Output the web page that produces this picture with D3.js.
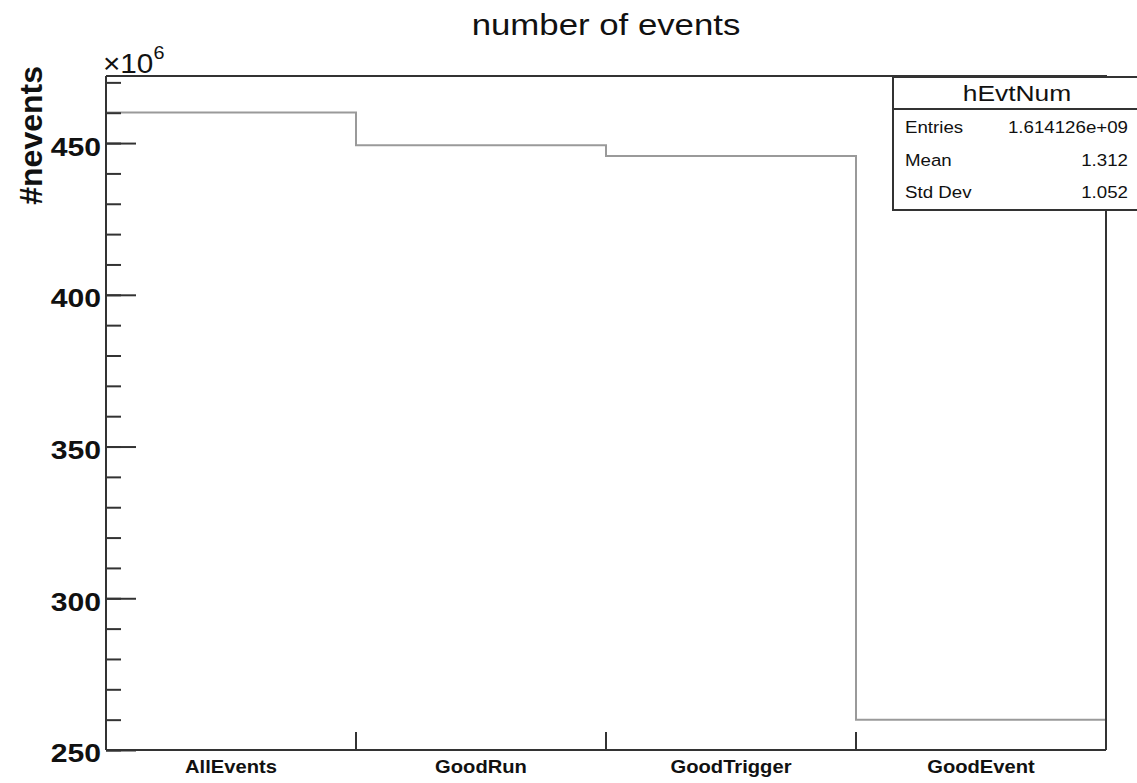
<!DOCTYPE html>
<html>
<head>
<meta charset="utf-8">
<script src="https://cdn.jsdelivr.net/npm/d3@7"></script>
<style>
    body { margin: 0; background: #fff; }
    text { font-family: "Liberation Sans", Arial, Helvetica, sans-serif; fill: #111; }
</style>
</head>
<body>
<div id="chart"></div>
<script>
    // bin labels and contents (in units of 10^6 events)
    var categories = ["AllEvents", "GoodRun", "GoodTrigger", "GoodEvent"];
    var counts = [460.1, 449.3, 445.7, 260.0];
    var majorTicks = [250, 300, 350, 400, 450];
    var minorTicks = d3.range(250, 471, 10);
    var statsLabels = ["Entries", "Mean", "Std Dev"];
    var statsValues = ["1.614126e+09", "1.312", "1.052"];
    var histName = "hEvtNum";
    var title = "number of events";
    var yTitle = "#nevents";

    var width = 1137, height = 783;
    var margin = {top: 76, right: 31, bottom: 33, left: 106};
    var sx = 1.16; // text looks slightly stretched horizontally

    var svg = d3.select("#chart").append("svg")
        .attr("width", width)
        .attr("height", height);

    var x = d3.scaleBand()
        .domain(categories)
        .range([margin.left, width - margin.right])
        .padding(0);

    var y = d3.scaleLinear()
        .domain([250, 472.1])
        .range([height - margin.bottom, margin.top]);

    // histogram outline
    var path = d3.path();
    categories.forEach(function (c, i) {
        if (i == 0) path.moveTo(x(c), y(counts[i]));
        else path.lineTo(x(c), y(counts[i]));
        path.lineTo(x(c) + x.bandwidth(), y(counts[i]));
    });
    svg.append("path")
        .attr("d", path.toString())
        .attr("fill", "none")
        .attr("stroke", "#9a9a9a")
        .attr("stroke-width", 2);

    // frame top + right
    svg.append("path")
        .attr("d", "M" + margin.left + "," + margin.top + "H" + (width - margin.right) + "V" + (height - margin.bottom))
        .attr("fill", "none")
        .attr("stroke", "#333")
        .attr("stroke-width", 2);

    // y axis: minor then major ticks, pointing inwards
    svg.append("g")
        .attr("transform", "translate(" + margin.left + ",0)")
        .call(d3.axisLeft(y).tickValues(minorTicks).tickSizeInner(-15).tickSizeOuter(0).tickFormat(""))
        .call(function (g) {
            g.select(".domain").remove();
            g.selectAll("line").attr("stroke", "#333").attr("stroke-width", 2);
        });

    svg.append("g")
        .attr("transform", "translate(" + margin.left + ",0)")
        .call(d3.axisLeft(y).tickValues(majorTicks).tickSizeInner(-30).tickSizeOuter(0).tickPadding(6))
        .call(function (g) {
            g.select(".domain")
                .attr("d", "M0," + margin.top + "V" + (height - margin.bottom))
                .attr("stroke", "#333").attr("stroke-width", 2);
            g.selectAll("line").attr("stroke", "#333").attr("stroke-width", 2);
            g.selectAll("text")
                .attr("font-size", 26)
                .attr("font-weight", "bold")
                .attr("dy", "0.46em")
                .attr("transform", "scale(" + sx + ",1)")
                .attr("x", -5 / sx)
                .style("font-family", '"Liberation Sans", Arial, sans-serif')
                .attr("fill", "#111");
        });

    // x axis: ticks at bin edges, labels at bin centres
    var edges = categories.map(function (c) { return x(c); }).slice(1);
    var xg = svg.append("g");
    xg.append("line")
        .attr("x1", margin.left).attr("x2", width - margin.right)
        .attr("y1", height - margin.bottom).attr("y2", height - margin.bottom)
        .attr("stroke", "#333").attr("stroke-width", 2);
    xg.selectAll("line.tick").data(edges).enter().append("line")
        .attr("class", "tick")
        .attr("x1", function (d) { return d; }).attr("x2", function (d) { return d; })
        .attr("y1", height - margin.bottom).attr("y2", height - margin.bottom - 18)
        .attr("stroke", "#333").attr("stroke-width", 2);
    xg.selectAll("g.lab").data(categories).enter().append("g")
        .attr("class", "lab")
        .attr("transform", function (d) {
            return "translate(" + (x(d) + x.bandwidth() / 2) + "," + (height - 10) + ") scale(1.12,1)";
        })
        .append("text")
        .attr("text-anchor", "middle")
        .attr("font-size", 18)
        .attr("font-weight", "bold")
        .text(function (d) { return d; });

    // exponent label
    var ex = svg.append("g")
        .attr("transform", "translate(103,73) scale(1.1,1)")
        .append("text")
        .attr("font-size", 27);
    ex.append("tspan").text("\u00d710");
    ex.append("tspan").attr("font-size", 18).attr("dy", -14).text("6");

    // title
    svg.append("g")
        .attr("transform", "translate(606,35) scale(" + sx + ",1)")
        .append("text")
        .attr("text-anchor", "middle")
        .attr("font-size", 30)
        .text(title);

    // y title
    svg.append("text")
        .attr("transform", "translate(42,66) rotate(-90)")
        .attr("text-anchor", "end")
        .attr("font-size", 32)
        .attr("font-weight", "bold")
        .text(yTitle);

    // stats box
    var box = {x0: 893, x1: 1137, y0: 77, y1: 210, sep: 109};
    var st = svg.append("g");
    st.append("rect")
        .attr("x", box.x0).attr("y", box.y0)
        .attr("width", box.x1 - box.x0 + 2).attr("height", box.y1 - box.y0)
        .attr("fill", "#fff").attr("stroke", "#333").attr("stroke-width", 2);
    st.append("line")
        .attr("x1", box.x0).attr("x2", box.x1)
        .attr("y1", box.sep).attr("y2", box.sep)
        .attr("stroke", "#333").attr("stroke-width", 2);
    st.append("g")
        .attr("transform", "translate(" + ((box.x0 + box.x1) / 2 + 2) + ",101) scale(1.2,1)")
        .append("text")
        .attr("text-anchor", "middle")
        .attr("font-size", 22)
        .text(histName);

    var rowY = d3.scaleLinear().domain([0, 2]).range([133, 198]);
    statsLabels.forEach(function (lab, i) {
        st.append("g")
            .attr("transform", "translate(905," + rowY(i) + ") scale(1.1,1)")
            .append("text")
            .attr("font-size", 17)
            .text(lab);
        st.append("g")
            .attr("transform", "translate(1128," + rowY(i) + ") scale(1.1,1)")
            .append("text")
            .attr("text-anchor", "end")
            .attr("font-size", 17)
            .text(statsValues[i]);
    });
</script>
</body>
</html>
